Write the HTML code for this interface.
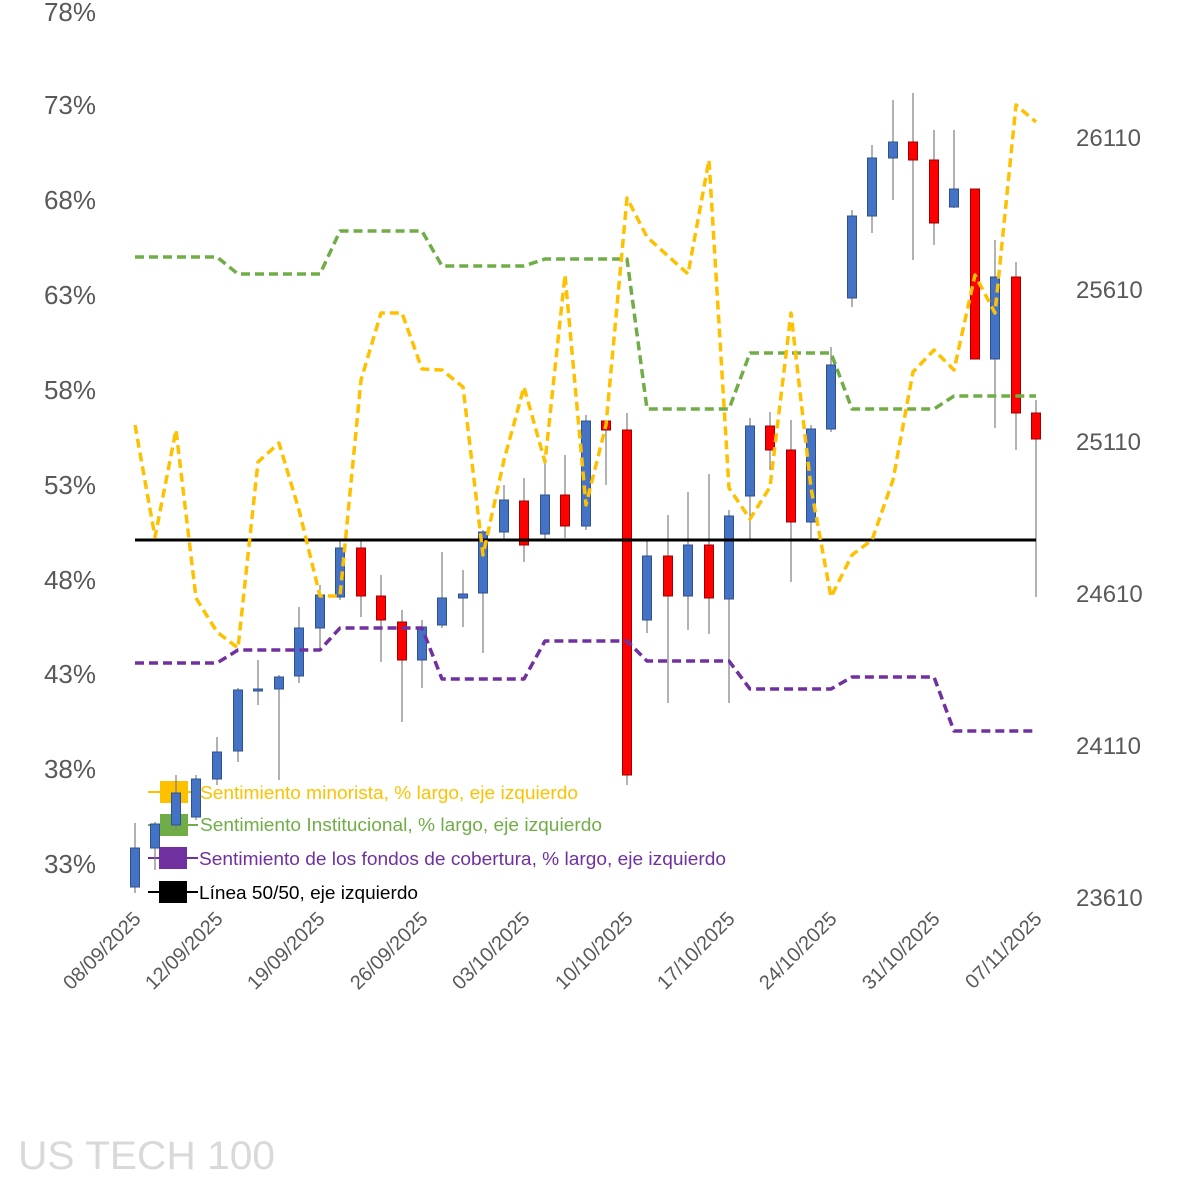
<!DOCTYPE html>
<html><head><meta charset="utf-8"><style>body{margin:0;background:#fff}svg{display:block}</style></head><body>
<svg width="1181" height="1181" viewBox="0 0 1181 1181" xmlns="http://www.w3.org/2000/svg" font-family="Liberation Sans, sans-serif">
<rect width="1181" height="1181" fill="#fff"/>
<g font-size="26" fill="#595959" text-anchor="end">
<text x="96" y="21">78%</text><text x="96" y="114">73%</text><text x="96" y="209">68%</text><text x="96" y="304">63%</text><text x="96" y="399">58%</text><text x="96" y="494">53%</text><text x="96" y="589">48%</text><text x="96" y="683">43%</text><text x="96" y="778">38%</text><text x="96" y="873">33%</text>
</g>
<g font-size="24" fill="#595959">
<text x="1076" y="146">26110</text><text x="1076" y="298">25610</text><text x="1076" y="450">25110</text><text x="1076" y="602">24610</text><text x="1076" y="754">24110</text><text x="1076" y="906">23610</text>
</g>
<g font-size="20" fill="#595959" text-anchor="end">
<text transform="translate(142,920) rotate(-45)">08/09/2025</text>
<text transform="translate(224,920) rotate(-45)">12/09/2025</text>
<text transform="translate(326,920) rotate(-45)">19/09/2025</text>
<text transform="translate(429,920) rotate(-45)">26/09/2025</text>
<text transform="translate(531,920) rotate(-45)">03/10/2025</text>
<text transform="translate(634,920) rotate(-45)">10/10/2025</text>
<text transform="translate(736,920) rotate(-45)">17/10/2025</text>
<text transform="translate(838,920) rotate(-45)">24/10/2025</text>
<text transform="translate(941,920) rotate(-45)">31/10/2025</text>
<text transform="translate(1043,920) rotate(-45)">07/11/2025</text>
</g>
<text x="18" y="1169" font-size="40" fill="#d9d9d9" textLength="257" lengthAdjust="spacingAndGlyphs">US TECH 100</text>
<g font-size="18">
<line x1="148" y1="792" x2="198" y2="792" stroke="#FFC000" stroke-width="2"/><rect x="160" y="781" width="28" height="22" fill="#FFC000"/><text x="200" y="799" fill="#FFC000" textLength="378" lengthAdjust="spacingAndGlyphs">Sentimiento minorista, % largo, eje izquierdo</text>
<line x1="148" y1="825" x2="198" y2="825" stroke="#70AD47" stroke-width="2"/><rect x="160" y="814" width="28" height="22" fill="#70AD47"/><text x="200" y="831" fill="#70AD47" textLength="402" lengthAdjust="spacingAndGlyphs">Sentimiento Institucional, % largo, eje izquierdo</text>
<line x1="148" y1="858" x2="198" y2="858" stroke="#7030A0" stroke-width="2"/><rect x="159" y="847" width="28" height="22" fill="#7030A0"/><text x="199" y="865" fill="#7030A0" textLength="527" lengthAdjust="spacingAndGlyphs">Sentimiento de los fondos de cobertura, % largo, eje izquierdo</text>
<line x1="148" y1="892" x2="198" y2="892" stroke="#000" stroke-width="2"/><rect x="159" y="881" width="28" height="22" fill="#000"/><text x="199" y="899" fill="#000" textLength="219" lengthAdjust="spacingAndGlyphs">Línea 50/50, eje izquierdo</text>
</g>
<g stroke="#7f7f7f" stroke-width="1.2">
<line x1="135" y1="823" x2="135" y2="893"/><line x1="155" y1="822" x2="155" y2="870"/><line x1="176" y1="775" x2="176" y2="830"/><line x1="196" y1="775" x2="196" y2="820"/><line x1="217" y1="737" x2="217" y2="785"/><line x1="238" y1="688" x2="238" y2="762"/><line x1="258" y1="660" x2="258" y2="705"/><line x1="279" y1="675" x2="279" y2="780"/><line x1="299" y1="607" x2="299" y2="683"/><line x1="320" y1="585" x2="320" y2="648"/><line x1="340" y1="540" x2="340" y2="600"/><line x1="361" y1="540" x2="361" y2="617"/><line x1="381" y1="575" x2="381" y2="662"/><line x1="402" y1="610" x2="402" y2="722"/><line x1="422" y1="620" x2="422" y2="688"/><line x1="442" y1="552" x2="442" y2="628"/><line x1="463" y1="570" x2="463" y2="627"/><line x1="483" y1="530" x2="483" y2="653"/><line x1="504" y1="485" x2="504" y2="540"/><line x1="524" y1="478" x2="524" y2="562"/><line x1="545" y1="460" x2="545" y2="540"/><line x1="565" y1="455" x2="565" y2="538"/><line x1="586" y1="415" x2="586" y2="530"/><line x1="606" y1="420" x2="606" y2="485"/><line x1="627" y1="413" x2="627" y2="785"/><line x1="647" y1="540" x2="647" y2="633"/><line x1="668" y1="515" x2="668" y2="703"/><line x1="688" y1="492" x2="688" y2="630"/><line x1="709" y1="474" x2="709" y2="634"/><line x1="729" y1="510" x2="729" y2="703"/><line x1="750" y1="418" x2="750" y2="540"/><line x1="770" y1="412" x2="770" y2="470"/><line x1="791" y1="420" x2="791" y2="582"/><line x1="811" y1="425" x2="811" y2="540"/><line x1="831" y1="347" x2="831" y2="432"/><line x1="852" y1="210" x2="852" y2="307"/><line x1="872" y1="145" x2="872" y2="233"/><line x1="893" y1="100" x2="893" y2="200"/><line x1="913" y1="93" x2="913" y2="260"/><line x1="934" y1="130" x2="934" y2="245"/><line x1="954" y1="130" x2="954" y2="208"/><line x1="975" y1="189" x2="975" y2="359"/><line x1="995" y1="240" x2="995" y2="428"/><line x1="1016" y1="262" x2="1016" y2="450"/><line x1="1036" y1="400" x2="1036" y2="597"/>
</g>
<g fill="#4472C4" stroke="#2F528F" stroke-width="1">
<rect x="130.5" y="848" width="9" height="39"/><rect x="150.5" y="824" width="9" height="24"/><rect x="171.5" y="793" width="9" height="32"/><rect x="191.5" y="779" width="9" height="38"/><rect x="212.5" y="752" width="9" height="27"/><rect x="233.5" y="690" width="9" height="61"/><rect x="253.5" y="689" width="9" height="2"/><rect x="274.5" y="677" width="9" height="12"/><rect x="294.5" y="628" width="9" height="48"/><rect x="315.5" y="595" width="9" height="33"/><rect x="335.5" y="548" width="9" height="49"/><rect x="417.5" y="627" width="9" height="33"/><rect x="437.5" y="598" width="9" height="27"/><rect x="458.5" y="594" width="9" height="4"/><rect x="478.5" y="532" width="9" height="61"/><rect x="499.5" y="500" width="9" height="32"/><rect x="540.5" y="495" width="9" height="39"/><rect x="581.5" y="421" width="9" height="105"/><rect x="642.5" y="556" width="9" height="64"/><rect x="683.5" y="545" width="9" height="51"/><rect x="724.5" y="516" width="9" height="83"/><rect x="745.5" y="426" width="9" height="70"/><rect x="806.5" y="429" width="9" height="93"/><rect x="826.5" y="365" width="9" height="64"/><rect x="847.5" y="216" width="9" height="82"/><rect x="867.5" y="158" width="9" height="58"/><rect x="888.5" y="142" width="9" height="16"/><rect x="949.5" y="189" width="9" height="18"/><rect x="990.5" y="277" width="9" height="82"/>
</g>
<g fill="#FF0000" stroke="#a00000" stroke-width="1">
<rect x="356.5" y="548" width="9" height="48"/><rect x="376.5" y="596" width="9" height="24"/><rect x="397.5" y="622" width="9" height="38"/><rect x="519.5" y="501" width="9" height="44"/><rect x="560.5" y="495" width="9" height="31"/><rect x="601.5" y="421" width="9" height="9"/><rect x="622.5" y="430" width="9" height="345"/><rect x="663.5" y="556" width="9" height="40"/><rect x="704.5" y="545" width="9" height="53"/><rect x="765.5" y="426" width="9" height="24"/><rect x="786.5" y="450" width="9" height="72"/><rect x="908.5" y="142" width="9" height="18"/><rect x="929.5" y="160" width="9" height="63"/><rect x="970.5" y="189" width="9" height="170"/><rect x="1011.5" y="277" width="9" height="136"/><rect x="1031.5" y="413" width="9" height="26"/>
</g>
<line x1="135" y1="540" x2="1036" y2="540" stroke="#000" stroke-width="3"/>
<g fill="none" stroke-width="3.5" stroke-dasharray="9,5" stroke-linejoin="round">
<polyline stroke="#70AD47" points="135,257 217,257 238,274 320,274 340,231 422,231 442,266 524,266 545,259 627,259 647,409 729,409 750,353 831,353 852,409 934,409 954,396 1036,396"/>
<polyline stroke="#7030A0" points="135,663 217,663 238,650 320,650 340,628 422,628 442,679 524,679 545,641 627,641 647,661 729,661 750,689 831,689 852,677 934,677 954,731 1036,731"/>
<polyline stroke="#FFC000" points="135,425 155,537 176,430 196,598 217,632 238,648 258,462 279,443 299,510 320,596 340,596 361,380 381,313 402,313 422,369 442,370 463,387 483,555 504,460 524,387 545,462 565,275 586,505 606,425 627,198 647,237 668,256 688,274 709,160 729,488 750,519 770,487 791,313 811,488 831,597 852,555 872,540 893,480 913,372 934,350 954,370 975,275 995,313 1016,105 1036,122"/>
</g>
</svg>
</body></html>
